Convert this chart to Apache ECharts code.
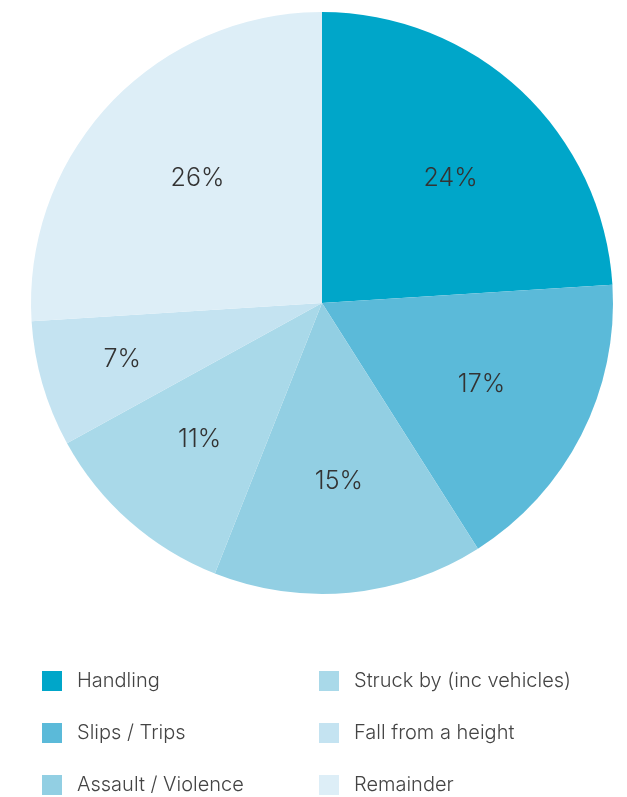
<!DOCTYPE html>
<html><head><meta charset="utf-8">
<script src="https://cdn.jsdelivr.net/npm/echarts@6/dist/echarts.min.js"></script>
<style>html,body{margin:0;padding:0;background:#fff}#c{width:627px;height:797px}</style>
</head><body><div id="c"></div>
<script>
const categories = ['Handling','Slips / Trips','Assault / Violence','Struck by (inc vehicles)','Fall from a height','Remainder'];
const values = [24,17,15,11,7,26];
const colors = ['#00A6C9','#5BBAD9','#92CFE3','#A9D9E9','#C4E3F1','#DDEEF7'];
const leftLegend = categories.slice(0,3);
const rightLegend = categories.slice(3);
// small nudges for label placement (pixels), keyed by category
const labelNudge = {'Handling':[6,6], 'Fall from a height':[-28,7], 'Struck by (inc vehicles)':[-4,2], 'Remainder':[6,-2]};

const data = categories.map((n,i)=>({name:n, value:values[i], itemStyle:{color:colors[i]}}));
const labelData = categories.map((n,i)=>({name:n, value:values[i], label:{offset:labelNudge[n]||[0,0]}}));
const font = 'Inter, "Noto Sans", sans-serif';
const legendCommon = {
  orient:'vertical', top:671, height:160, padding:0, itemWidth:20, itemHeight:20, itemGap:32, icon:'rect',
  selectedMode:false,
  textStyle:{fontFamily:font, fontSize:20, fontWeight:300, color:'#444', padding:[0,0,0,10]}
};
const chart = echarts.init(document.getElementById('c'));
chart.setOption({
  animation:false,
  legend:[
    Object.assign({left:42, data:leftLegend}, legendCommon),
    Object.assign({left:319, data:rightLegend}, legendCommon)
  ],
  series:[
    {type:'pie', center:[322,303], radius:[0,291], startAngle:90, clockwise:true,
     label:{show:false}, labelLine:{show:false}, emphasis:{disabled:true}, silent:true,
     itemStyle:{borderWidth:0}, data:data},
    {type:'pie', center:[322,303], radius:[0,352], startAngle:90, clockwise:true,
     silent:true, emphasis:{disabled:true}, legendHoverLink:false,
     itemStyle:{color:'rgba(0,0,0,0)', borderWidth:0},
     label:{show:true, position:'inside', formatter:'{c}%', fontFamily:font, fontSize:25, fontWeight:300, color:'#333'},
     labelLine:{show:false}, data:labelData}
  ]
});
</script></body></html>
